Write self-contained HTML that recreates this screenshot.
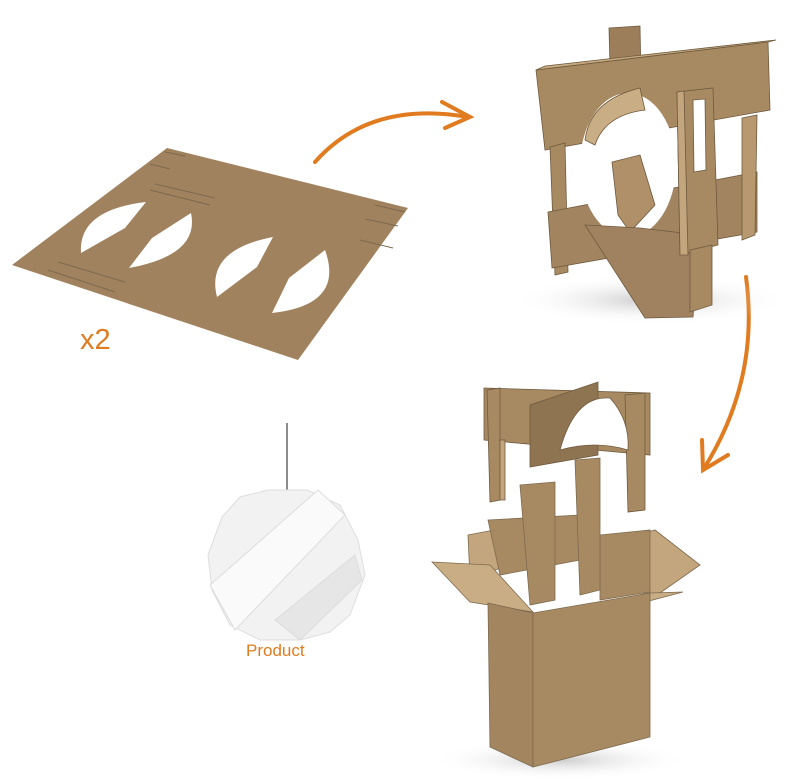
<!DOCTYPE html>
<html><head><meta charset="utf-8"><style>
html,body{margin:0;padding:0;background:#fff;width:785px;height:780px;overflow:hidden}
svg{display:block}
text{font-family:"Liberation Sans",sans-serif}
</style></head><body>
<svg width="785" height="780" viewBox="0 0 785 780">
<defs>
<radialGradient id="sh" cx="50%" cy="50%" r="50%"><stop offset="0" stop-color="#999" stop-opacity=".5"/><stop offset="1" stop-color="#fff" stop-opacity="0"/></radialGradient>
</defs>
<!-- flat sheet -->
<polygon points="167,148 408,208 298,360 12,265" fill="#a0825e"/>
<g fill="#fff">
<path d="M81,253 Q78,210 146,202 L125,228 Z"/>
<path d="M191,213 Q200,255 129,268 L152,238 Z"/>
<path d="M217,297 Q205,250 273,237 L257,267 Z"/>
<path d="M272,313 Q345,305 325,250 L289,278 Z"/>
</g>
<g stroke="#7d6a4e" stroke-width="1">
<line x1="165" y1="152" x2="185" y2="156"/><line x1="150" y1="164" x2="170" y2="169"/>
<line x1="155" y1="184" x2="215" y2="198"/><line x1="150" y1="190" x2="210" y2="205"/>
<line x1="58" y1="262" x2="125" y2="282"/><line x1="48" y1="270" x2="115" y2="292"/>
<line x1="375" y1="205" x2="405" y2="212"/><line x1="365" y1="219" x2="398" y2="226"/>
<line x1="360" y1="240" x2="393" y2="248"/>
</g>
<text x="80" y="349" font-size="29" fill="#e07b20">x2</text>
<!-- arrows -->
<g fill="none" stroke="#e07b20" stroke-width="4" stroke-linecap="round">
<path d="M315,162 Q370,100 468,117"/>
<path d="M442,102 L470,117 L445,128"/>
<path d="M746,277 Q760,380 703,470"/>
<path d="M702,440 L703,470 L728,455"/>
</g>
<!-- assembled structure top right -->
<ellipse cx="650" cy="300" rx="140" ry="25" fill="url(#sh)"/>
<g stroke="#6e5a3e" stroke-width="0.8">
<polygon points="609,28 640,26 643,180 613,185" fill="#9c7e5a"/>
<polygon points="536,70 768,42 770,110 545,150" fill="#a88a62"/>
<polygon points="536,70 545,66 776,40 768,42" fill="#c6a97f"/>
<polygon points="550,147 565,143 568,272 555,275" fill="#a88a62"/>
<polygon points="548,212 757,172 757,232 552,268" fill="#a28460"/>
<polygon points="742,118 757,115 755,235 742,240" fill="#b8996f"/>
</g>
<ellipse cx="628" cy="165" rx="48" ry="72" fill="#fff"/>
<g stroke="#6e5a3e" stroke-width="0.8">
<path d="M585,140 Q590,100 640,88 L645,110 Q605,115 595,145 Z" fill="#c9ad85"/>
<polygon points="612,162 640,155 655,205 630,232 618,215" fill="#b09068"/>
<polygon points="585,225 640,228 700,235 693,317 645,318" fill="#a08260"/>
<polygon points="677,92 713,88 718,245 680,255" fill="#a88a62"/>
<polygon points="677,92 684,91 688,255 680,255" fill="#c4a67e"/>
<polygon points="690,250 712,245 712,305 690,312" fill="#a88a62"/>
</g>
<path d="M693,100 L705,99 L706,170 L694,172 Z" fill="#fff" stroke="#6e5a3e" stroke-width="0.8"/>
<!-- box -->
<ellipse cx="560" cy="760" rx="130" ry="20" fill="url(#sh)"/>
<g stroke="#7d6a4e" stroke-width="0.8">
<polygon points="468,535 520,525 520,560 470,580" fill="#c4a67e"/>
<polygon points="432,562 490,565 533,612 470,602" fill="#c9ad85"/>
<polygon points="650,600 700,565 655,530 600,545" fill="#c4a67e"/>
<polygon points="588,605 650,593 683,592 600,614" fill="#c9ad85"/>
<polygon points="488,520 580,515 580,560 500,575" fill="#a88a62"/>
<polygon points="600,535 650,530 650,592 600,600" fill="#a88a62"/>
<polygon points="520,485 555,482 555,600 530,605" fill="#a88a62"/>
<polygon points="575,460 600,458 600,590 580,595" fill="#a88a62"/>
<polygon points="488,603 533,613 533,767 490,747" fill="#a38560"/>
<polygon points="533,613 650,593 650,737 533,767" fill="#a88a62"/>
</g>
<!-- floating top part -->
<g stroke="#6e5a3e" stroke-width="0.8">
<polygon points="484,388 650,393 650,455 484,440" fill="#a88a62"/>
<polygon points="530,405 598,382 598,455 530,467" fill="#8f7452"/>
<polygon points="487,390 500,388 500,500 490,502" fill="#a88a62"/>
<polygon points="500,440 505,440 505,500 500,500" fill="#c4a67e"/>
<polygon points="625,395 645,393 645,510 628,512" fill="#a88a62"/>
<path d="M560,450 Q575,395 610,398 Q630,420 628,450 Q595,440 560,450 Z" fill="#fff"/>
</g>
<!-- lamp -->
<line x1="287" y1="423" x2="287" y2="492" stroke="#666" stroke-width="1.5"/>
<polygon points="268,490 307,490 340,505 358,540 365,575 350,615 330,632 300,640 260,640 230,625 212,590 208,555 222,517 240,497" fill="#f2f2f2" stroke="#ddd"/>
<polygon points="210,585 318,490 345,515 235,630" fill="#fafafa" stroke="#ddd"/>
<polygon points="275,620 355,555 362,580 300,640" fill="#e6e6e6" stroke="#ddd"/>
<text x="246" y="656" font-size="17" fill="#e07b20">Product</text>
</svg>
</body></html>
